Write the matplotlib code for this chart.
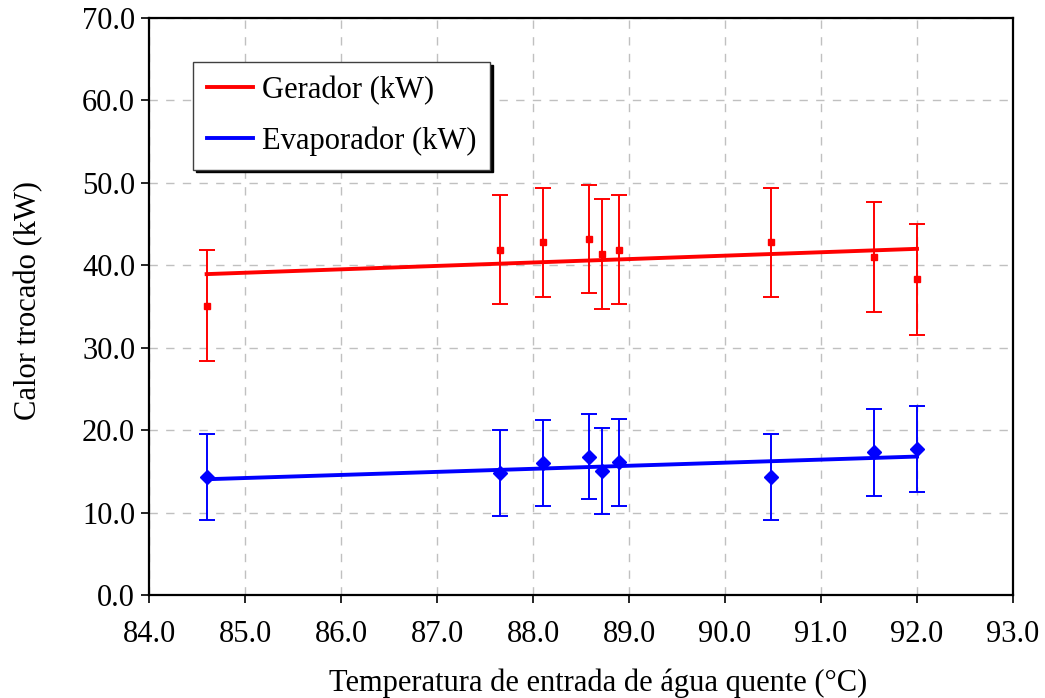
import numpy as np
import matplotlib
matplotlib.use('Agg')
from matplotlib import pyplot as plt
from matplotlib.ticker import FormatStrFormatter

# data
temp = [84.6, 87.66, 88.1, 88.58, 88.72, 88.9, 90.48, 91.55, 92.0]
gerador = [35.1, 41.9, 42.8, 43.2, 41.4, 41.9, 42.8, 41.0, 38.3]
gerador_err = [6.7, 6.6, 6.6, 6.6, 6.7, 6.6, 6.6, 6.7, 6.7]
evaporador = [14.3, 14.8, 16.0, 16.8, 15.0, 16.1, 14.3, 17.3, 17.7]
evaporador_err = [5.2, 5.2, 5.2, 5.1, 5.2, 5.3, 5.2, 5.3, 5.2]

plt.rcParams['font.family'] = ['Liberation Serif', 'DejaVu Serif']
plt.rcParams['font.size'] = 22

fig = plt.figure(figsize=(10.45, 6.98), dpi=100)
ax = fig.add_axes([0.1426, 0.1476, 0.8268, 0.8266])

ax.grid(True, color='#c0c0c0', linestyle=(0, (6, 6)), linewidth=1)
ax.set_axisbelow(True)

# trend lines (linear fit like excel)
x = np.asarray(temp)
xl = np.array([x.min(), x.max()])
pg = np.polyfit(x, gerador, 1)
pe = np.polyfit(x, evaporador, 1)

ax.errorbar(temp, gerador, yerr=gerador_err, fmt='s', color='#ff0000', ms=5,
            elinewidth=1.4, capsize=6, capthick=1.4, zorder=3)
ax.errorbar(temp, evaporador, yerr=evaporador_err, fmt='D', color='#0000ff', ms=7,
            elinewidth=1.4, capsize=6, capthick=1.4, zorder=3)
ax.plot(xl, np.polyval(pg, xl) - 0.2, color='#ff0000', lw=2.8, label='Gerador (kW)', zorder=4)
ax.plot(xl, np.polyval(pe, xl) - 0.15, color='#0000ff', lw=2.8, label='Evaporador (kW)', zorder=4)

ax.set_xlim(84, 93)
ax.set_ylim(0, 70)
ax.set_xticks(np.arange(84, 93.5, 1))
ax.set_yticks(np.arange(0, 71, 10))
ax.xaxis.set_major_formatter(FormatStrFormatter('%.1f'))
ax.yaxis.set_major_formatter(FormatStrFormatter('%.1f'))
ax.tick_params(direction='out', length=6, width=1.2)
ax.tick_params(axis='x', pad=12)
ax.tick_params(axis='y', pad=4)
for s in ax.spines.values():
    s.set_linewidth(1.6)

ax.set_xlabel('Temperatura de entrada de água quente (°C)')
ax.set_ylabel('Calor trocado (kW)')
ax.xaxis.set_label_coords(0.52, -0.128)
ax.yaxis.set_label_coords(-0.123, 0.51)

leg = ax.legend(loc='upper left', bbox_to_anchor=(0.051, 0.924), fancybox=False,
                shadow={'color': 'black', 'alpha': 1}, framealpha=1,
                edgecolor='#404040', borderpad=0.45, labelspacing=0.7,
                handlelength=1.5, handletextpad=0.3, borderaxespad=0)
leg.get_frame().set_linewidth(1.0)

fig.savefig('out.png', dpi=100)
